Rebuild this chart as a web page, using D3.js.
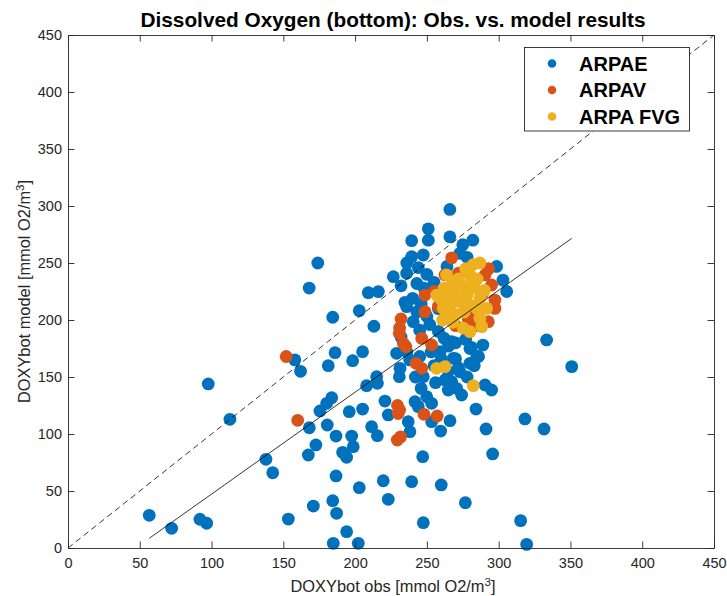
<!DOCTYPE html>
<html>
<head>
<meta charset="utf-8">
<script src="https://cdn.jsdelivr.net/npm/d3@7"></script>
<style>
  html, body { margin: 0; padding: 0; background: #fff; }
  svg { display: block; font-family: "Liberation Sans", Arial, Helvetica, sans-serif; }
</style>
</head>
<body>
<svg id="chart" width="727" height="596"></svg>
<script>
// Axis ticks
const xTicks = [0, 50, 100, 150, 200, 250, 300, 350, 400, 450];
const yTicks = [0, 50, 100, 150, 200, 250, 300, 350, 400, 450];

// Series names
const seriesNames = ["ARPAE", "ARPAV", "ARPA FVG"];

// ARPAE: observed vs. modelled bottom oxygen
const arpaeObs = [56.6, 72.2, 91.9, 96.6, 97.7, 112.8, 137.9, 142.6, 153.5, 158, 162, 168, 174,
  167.4, 168.1, 172.7, 170.9,
  175.5, 180.2, 183.7, 181.3, 180.6, 184.4, 186, 186.7, 184.4, 187.1, 186.7, 184.8,
  191.3, 194.1, 194.1, 195.9, 197.6, 198.3, 198.7, 202.2, 202.9, 202.9, 205.2, 205.2, 208, 209.2,
  211.5, 213.1, 215, 215.5, 215.5, 216.2, 219.6, 220.8, 223.1, 223.1, 226.6,
  228.9, 230.8, 231.3, 234.7, 235.9, 235.9, 237, 238.2, 239.4, 239.4, 239.4, 240.1, 240.5, 241.7, 244,
  247.1, 247.5, 247.5, 249.9, 253.3, 253.3, 259.6, 260, 262.6, 264.9, 266.1, 267.3, 270.7, 274.2, 276.8,
  284.2, 290.5, 291.2, 295.1, 295.8, 315.3, 318.3, 319.5, 331.6, 333.4, 350.9,
  266, 251, 251, 266, 275, 282, 247.5, 273, 298.6, 303, 305.6,
  244, 250, 243, 255, 248, 257, 246, 243, 250, 252, 258, 245, 262, 265, 253, 245, 260, 270, 272, 265,
  255, 278, 281, 286, 289, 277, 236, 238, 232, 242, 256, 246, 283, 270, 258, 264, 232, 236, 278,
  267.3, 280, 284.7, 280, 273, 268.4, 259.1];
const arpaeModel = [28.7, 17.3, 25.2, 21.7, 143.9, 112.9, 77.8, 66, 25.4, 165, 155, 228, 250,
  81.6, 105.5, 90.4, 36.8,
  120.2, 126.9, 131.8, 159.9, 107.9, 202.4, 171.3, 98.2, 41.5, 30.4, 63.2, 4.1,
  83.9, 79.6, 14.3, 119.6, 98.2, 164.3, 88.9, 4.1, 52.9, 208.2, 121.9, 172.2, 142.4, 224,
  106.4, 194.5, 150.3, 144.5, 98.5, 224.9, 59, 128.9, 116.7, 42.7, 238,
  170.8, 150.3, 157.6, 215.5, 211.7, 241, 110.8, 102, 269.6, 255.5, 58.2, 219, 198.5, 128.3, 124,
  80.1, 22.2, 150.3, 132.7, 126.9, 110.8, 102.6, 55.3, 147.4, 138.6, 111.7, 145.9, 140.1, 134.2, 39.7,
  121.9, 143, 104.4, 138.6, 82.5, 24, 113.2, 3.2, 104.4, 182.5, 159.1,
  297, 280, 270, 273, 266, 270, 257, 258.5, 247, 235, 225,
  246, 240, 232, 233, 228, 226, 214, 207, 203, 196, 190, 191, 184, 177, 172, 168, 166, 166, 158, 155,
  160, 150, 176, 168, 178, 183, 172, 165, 185, 150, 145, 140, 160, 180, 210, 247, 230, 250, 255,
  181, 175, 167.8, 162, 154.6, 166.4, 172.2];

// ARPAV
const arpavObs = [152, 160, 229.5, 231, 230, 229.4, 231.7, 248, 257.2, 242.4, 246.4, 232, 230.8, 233.6, 235.4,
  231, 246.4, 253.3, 248.7, 248.7, 262.6, 267.3, 271.9, 290.5, 295.1, 297.4, 297.4, 292.8, 278.9,
  284, 289, 293, 258, 255, 285, 270];
const arpavModel = [168, 112, 125, 121, 118, 94.7, 97.5, 117.3, 115.8, 162, 157.6, 200.9, 188.3, 179.6, 176.6,
  193, 183.9, 178.1, 221.9, 207.3, 239.5, 254.5, 241, 239.5, 230.7, 217.5, 210.2, 198.5, 200,
  205, 224, 245, 212, 225, 195, 195];

// ARPA FVG
const fvgObs = [282.3, 282.3, 286.9, 263.7, 280, 256.8, 266.1, 263.7, 273.1, 280, 286.9, 291.6, 286.9,
  275.4, 280, 288.2, 256.8, 262.6, 260, 270, 275, 283, 278, 268, 262, 290, 285, 270, 276, 268,
  261, 285, 272, 277, 265, 282, 261.4];
const fvgModel = [142.4, 248.6, 250, 239.5, 239.5, 221.9, 213.2, 207.3, 216.1, 213.2, 219, 210.2, 201.5,
  192.8, 189.8, 194.2, 157.6, 159.1, 218, 225, 230, 228, 222, 232, 228, 226, 210, 205, 207, 198,
  200, 236, 236, 245, 220, 233, 210.2];

// Linear fit of model against observations
const fitSlope = 0.894;
const fitIntercept = -42.1;

const colors = ["#0072BD", "#D95319", "#EDB120"];

const svg = d3.select("#chart");
const margin = { left: 68, right: 13, top: 35, bottom: 48 };
const W = 727, H = 596;
const x = d3.scaleLinear().domain([0, 450]).range([margin.left, W - margin.right]);
const y = d3.scaleLinear().domain([0, 450]).range([H - margin.bottom, margin.top]);

const axisColor = "#262626";
const tickLen = 6.5;

// Frame
svg.append("rect")
  .attr("x", x(0)).attr("y", y(450))
  .attr("width", x(450) - x(0)).attr("height", y(0) - y(450))
  .attr("fill", "#fff");

// Series (drawn in order so later ones sit on top)
const series = [
  { name: seriesNames[0], obs: arpaeObs, model: arpaeModel, color: colors[0] },
  { name: seriesNames[1], obs: arpavObs, model: arpavModel, color: colors[1] },
  { name: seriesNames[2], obs: fvgObs, model: fvgModel, color: colors[2] }
];
series.forEach(s => {
  svg.append("g").selectAll("circle")
    .data(s.obs.map((o, i) => [o, s.model[i]]))
    .join("circle")
    .attr("cx", d => x(d[0]))
    .attr("cy", d => y(d[1]))
    .attr("r", 6.4)
    .attr("fill", s.color);
});

// 1:1 reference line
svg.append("line")
  .attr("x1", x(0)).attr("y1", y(0))
  .attr("x2", x(450)).attr("y2", y(450))
  .attr("stroke", "#000").attr("stroke-width", 0.8)
  .attr("stroke-dasharray", "6,4");

// Regression line over the observed range
const allObs = arpaeObs.concat(arpavObs, fvgObs);
const [xMin, xMax] = d3.extent(allObs);
svg.append("line")
  .attr("x1", x(xMin)).attr("y1", y(fitSlope * xMin + fitIntercept))
  .attr("x2", x(xMax)).attr("y2", y(fitSlope * xMax + fitIntercept))
  .attr("stroke", "#000").attr("stroke-width", 0.8);

// Axes with inward ticks on all four sides
const fmt = d3.format("d");
const axBottom = svg.append("g").attr("transform", `translate(0,${y(0)})`)
  .call(d3.axisBottom(x).tickValues(xTicks).tickSizeInner(-tickLen).tickSizeOuter(0).tickPadding(10).tickFormat(fmt));
const axLeft = svg.append("g").attr("transform", `translate(${x(0)},0)`)
  .call(d3.axisLeft(y).tickValues(yTicks).tickSizeInner(-tickLen).tickSizeOuter(0).tickPadding(6).tickFormat(fmt));
const axTop = svg.append("g").attr("transform", `translate(0,${y(450)})`)
  .call(d3.axisTop(x).tickValues(xTicks).tickSizeInner(-tickLen).tickSizeOuter(0).tickFormat(""));
const axRight = svg.append("g").attr("transform", `translate(${x(450)},0)`)
  .call(d3.axisRight(y).tickValues(yTicks).tickSizeInner(-tickLen).tickSizeOuter(0).tickFormat(""));
[axBottom, axLeft, axTop, axRight].forEach(g => {
  g.select(".domain").attr("stroke", axisColor).attr("stroke-width", 0.9);
  g.selectAll(".tick line").attr("stroke", axisColor).attr("stroke-width", 0.9);
  g.selectAll(".tick text").attr("fill", axisColor)
    .style("font-family", '"Liberation Sans", Arial, sans-serif').style("font-size", "14.5px");
});

// Title
svg.append("text")
  .attr("x", (x(0) + x(450)) / 2 + 2).attr("y", 27)
  .attr("text-anchor", "middle")
  .style("font-size", "20.8px").style("font-weight", "bold")
  .attr("fill", "#000")
  .text("Dissolved Oxygen (bottom): Obs. vs. model results");

// Axis labels
const xl = svg.append("text")
  .attr("x", (x(0) + x(450)) / 2 + 2).attr("y", 592)
  .attr("text-anchor", "middle")
  .style("font-size", "16.4px").attr("fill", axisColor);
xl.append("tspan").text("DOXYbot obs [mmol O2/m");
xl.append("tspan").attr("dy", -6.5).style("font-size", "11.5px").text("3");
xl.append("tspan").attr("dy", 6.5).text("]");

const yl = svg.append("text")
  .attr("transform", `translate(30,${(y(0) + y(450)) / 2}) rotate(-90)`)
  .attr("text-anchor", "middle")
  .style("font-size", "16.4px").attr("fill", axisColor);
yl.append("tspan").text("DOXYbot model [mmol O2/m");
yl.append("tspan").attr("dy", -6.5).style("font-size", "11.5px").text("3");
yl.append("tspan").attr("dy", 6.5).text("]");

// Legend
const lg = svg.append("g");
lg.append("rect")
  .attr("x", 524.5).attr("y", 47.5).attr("width", 165).attr("height", 83.5)
  .attr("fill", "#fff").attr("stroke", axisColor).attr("stroke-width", 0.9);
series.forEach((s, i) => {
  const cy = 63.5 + i * 26.5;
  lg.append("circle").attr("cx", 552).attr("cy", cy).attr("r", 4.3).attr("fill", s.color);
  lg.append("text").attr("x", 579).attr("y", cy + 7)
    .style("font-size", "20px").style("font-weight", "bold").attr("fill", "#000")
    .text(s.name);
});
</script>
</body>
</html>
